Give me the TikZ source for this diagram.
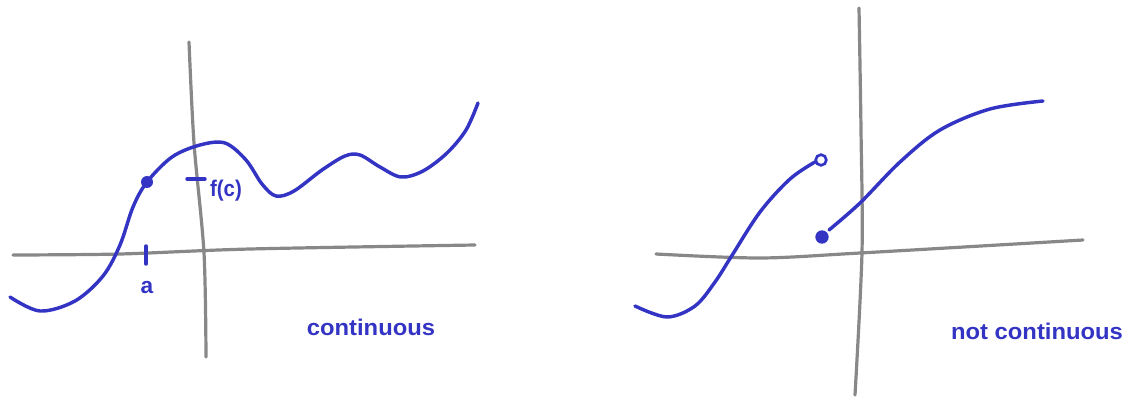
\documentclass[tikz,border=0pt]{standalone}
\usepackage{fontspec}
\setmainfont{Liberation Sans}
\definecolor{pen}{HTML}{3434C4}
\definecolor{axisgray}{HTML}{888888}
\begin{document}
\begin{tikzpicture}[x=0.75pt,y=-0.75pt,
  axisline/.style={draw=axisgray,line width=2.4pt,line cap=round},
  curveline/.style={draw=pen,line width=2.6pt,line cap=round},
  hand/.style={text=pen,font=\fontsize{17}{17}\selectfont\bfseries,inner sep=0pt}]
\useasboundingbox (0,0) rectangle (1134,403);
% ---- left graph ----
\draw[axisline] plot[smooth,tension=0.5] coordinates {(13,255) (120,254) (250,249) (475,245)};
\draw[axisline] plot[smooth,tension=0.5] coordinates {(189,42) (194,143) (204,253) (206,357)};
\draw[curveline] plot[smooth,tension=0.55] coordinates {(10,297) (40,311) (75,301) (103,276) (120,245) (133,207) (147,182) (172,157) (200,145) (225,143) (246,160) (262,184) (276,196) (294,191) (322,170) (345,156) (360,155) (380,167) (401,177) (423,171) (447,153) (466,130) (478,103)};
\node[circle,fill=pen,minimum size=9pt,inner sep=0pt] (dota) at (147,182) {};
\coordinate (ta1) at (146,246);
\coordinate (ta2) at (146,264);
\draw[curveline] (ta1) -- (ta2);
\coordinate (tf1) at (187,179);
\coordinate (tf2) at (205,179);
\draw[curveline] (tf1) -- (tf2);
\node[hand] (la) at (147,288) {a};
\node[hand,xscale=0.9] (lf) at (226,191) {f(c)};
\node[hand,xscale=1.05] (lcont) at (371,327) {continuous};
% ---- right graph ----
\draw[axisline] plot[smooth,tension=0.5] coordinates {(656,254) (760,258) (860,253) (1083,240)};
\draw[axisline] plot[smooth,tension=0.5] coordinates {(859,8) (861,130) (862,252) (855,395)};
\draw[curveline] plot[smooth,tension=0.55] coordinates {(635,306) (667,317) (695,306) (715,282) (731,257) (760,212) (790,179) (815,162)};
\node[circle,draw=pen,line width=2pt,fill=white,minimum size=8pt,inner sep=0pt] (open) at (821,160) {};
\node[circle,fill=pen,minimum size=10pt,inner sep=0pt] (dotb) at (822,237) {};
\draw[curveline] plot[smooth,tension=0.55] coordinates {(829,230) (860,203) (900,162) (940,130) (990,109) (1043,101)};
\node[hand,xscale=1.05] (lnot) at (1037,331) {not continuous};
\end{tikzpicture}
\end{document}
